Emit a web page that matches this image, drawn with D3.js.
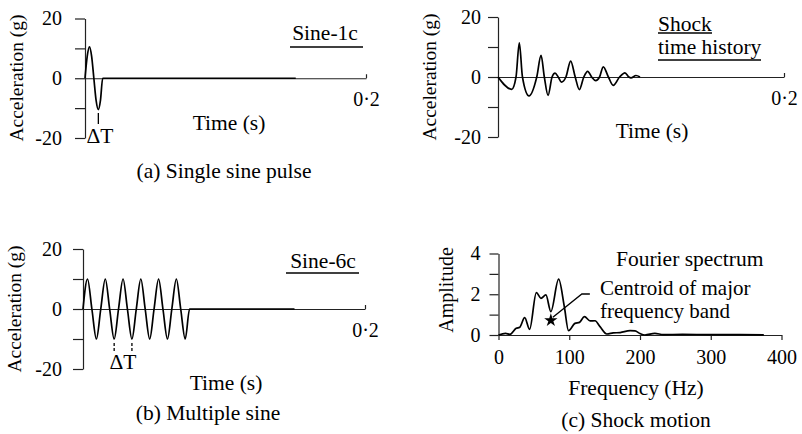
<!DOCTYPE html>
<html>
<head>
<meta charset="utf-8">
<script src="https://cdn.jsdelivr.net/npm/d3@7"></script>
<style>
  html, body { margin: 0; padding: 0; background: #fff; }
  svg { display: block; font-family: "Liberation Serif", "Times New Roman", serif; }
  .axis path, .axis line { stroke: #222; stroke-width: 1.2; }
  .axis text { font-family: "Liberation Serif", "Times New Roman", serif; font-size: 20px; fill: #000; }
  .trace { fill: none; stroke: #000; stroke-width: 1.7; stroke-linejoin: round; }
  .lbl { font-size: 21.5px; fill: #000; }
</style>
</head>
<body>
<svg id="chart" width="802" height="434"></svg>
<script>
// ---- data ----
const timeDomain = [0, 0.2];
const accelTicks = [-20, -10, 0, 10, 20];
const accelTickLabels = [-20, 0, 20];

// (a) single sine cycle, then rest
const sine1cTime = [0, 0.0016, 0.0032, 0.0047, 0.0063, 0.0079, 0.0095, 0.0110, 0.0126, 0.15];
const sine1cAccel = [0, 7.4, 10.5, 7.4, 0, -7.4, -10.5, -7.4, 0, 0];

// (b) six sine cycles, then rest
const sine6cTime = [
  0, 0.0032, 0.0063, 0.0095,
  0.0126, 0.0158, 0.0189, 0.0221,
  0.0252, 0.0284, 0.0315, 0.0347,
  0.0378, 0.0410, 0.0441, 0.0473,
  0.0504, 0.0536, 0.0567, 0.0599,
  0.0630, 0.0662, 0.0693, 0.0725,
  0.0756, 0.15
];
const sine6cAccel = [
  0, 10, 0, -10,
  0, 10, 0, -10,
  0, 10, 0, -10,
  0, 10, 0, -10,
  0, 10, 0, -10,
  0, 10, 0, -10,
  0, 0
];

// shock time history
const shockTime = [0, 0.0096, 0.0126, 0.0149, 0.0171, 0.0217, 0.0271, 0.0301, 0.0324, 0.0350,
  0.0378, 0.0399, 0.0421, 0.0443, 0.0475, 0.0508, 0.0540, 0.0569, 0.0600, 0.0627,
  0.0655, 0.0683, 0.0710, 0.0736, 0.0772, 0.0806, 0.0850, 0.0888, 0.0915, 0.0930,
  0.0965, 0.0993];
const shockAccel = [0, -4.1, 0, 11.4, 0, -6.3, 0, 7.2, 0, -6.1,
  0, 1.3, 0, -1.7, 0, 5.3, 0, -4.2, 0, 1.9,
  0, -1.2, 0, 3.4, 0, -2.8, 0, 1.4, 0, -0.3,
  0.5, 0];

// Fourier spectrum
const freqHz = [0, 10, 16, 25, 30, 37, 44, 53.5, 60, 67, 74, 85, 93, 99, 108, 114.5, 121.5,
  129.5, 136.5, 143.5, 153, 162, 172, 186, 193, 200, 207, 221, 233, 260, 300, 340, 375];
const fourierAmp = [0, 0.08, 0.03, 0.33, 0.38, 0.85, 0.28, 2.08, 1.8, 1.97, 1.15, 2.74, 1.4,
  0.21, 0.57, 0.62, 0.9, 0.69, 0.7, 0.41, 0.05, 0.1, 0.12, 0.21, 0.2, 0.07, 0.0, 0.08,
  0.02, 0.03, 0.02, 0.02, 0.01];
const freqTicks = [0, 100, 200, 300, 400];
const ampTicks = [0, 1, 2, 3, 4];
const ampTickLabels = [0, 2, 4];
const centroid = { f: 74, a: 0.72 };

// ---- drawing ----
const svg = d3.select("#chart");

function text(x, y, s, opts = {}) {
  const t = svg.append("text").attr("class", "lbl")
    .attr("x", x).attr("y", y).attr("text-anchor", opts.anchor || "middle").text(s);
  if (opts.size) t.style("font-size", opts.size + "px");
  if (opts.rotate) t.attr("transform", `rotate(-90,${x},${y})`);
  return t;
}
function rule(x1, y1, x2, y2, w = 1.5) {
  svg.append("line").attr("x1", x1).attr("y1", y1).attr("x2", x2).attr("y2", y2)
    .attr("stroke", "#000").attr("stroke-width", w);
}

function timePanel(p, times, accel) {
  const x = d3.scaleLinear().domain(timeDomain).range([p.left, p.right]);
  const y = d3.scaleLinear().domain([-20, 20]).range([p.bottom, p.top]);

  svg.append("g").attr("class", "axis")
    .attr("transform", `translate(${p.left},0)`)
    .call(d3.axisLeft(y).tickValues(accelTicks).tickSize(10).tickSizeOuter(0)
      .tickPadding(p.pad)
      .tickFormat(d => accelTickLabels.includes(d) ? String(d) : ""));

  svg.append("g").attr("class", "axis")
    .attr("transform", `translate(0,${y(0)})`)
    .call(d3.axisBottom(x).tickValues([0.2]).tickSize(-4).tickSizeOuter(0)
      .tickPadding(14).tickFormat(() => "0\u00B72"));

  const pts = times.map((t, i) => [t, accel[i]]);
  svg.append("path").attr("class", "trace")
    .attr("d", d3.line().x(d => x(d[0])).y(d => y(d[1])).curve(d3.curveMonotoneX)(pts));
  return { x, y };
}

// (a) Single sine pulse
const pa = timePanel({ left: 85, right: 366, top: 18.5, bottom: 138, pad: 13 }, sine1cTime, sine1cAccel);
text(16, 78, "Acceleration (g)", { rotate: true, size: 19.5 }).attr("dy", "0.35em");
text(229, 130, "Time (s)");
text(224, 178, "(a) Single sine pulse");
text(325, 40, "Sine-1c");
rule(290, 47, 363, 47);
{
  const tx = pa.x(sine1cTime[6]);
  rule(tx, 113, tx, 124, 1.3);
  text(100, 143, "\u0394T");
}

// (b) Multiple sine
const pb = timePanel({ left: 83, right: 365, top: 249, bottom: 369, pad: 11 }, sine6cTime, sine6cAccel);
text(14, 309, "Acceleration (g)", { rotate: true, size: 19.5 }).attr("dy", "0.35em");
text(226, 390, "Time (s)");
text(208, 420, "(b) Multiple sine");
text(323, 268, "Sine-6c");
rule(286, 273, 359, 273);
[sine6cTime[7], sine6cTime[11]].forEach(t => {
  const tx = pb.x(t);
  svg.append("line").attr("x1", tx).attr("x2", tx).attr("y1", 343).attr("y2", 351)
    .attr("stroke", "#000").attr("stroke-width", 1.3).attr("stroke-dasharray", "3,2");
});
text(123, 369, "\u0394T");

// Shock time history
timePanel({ left: 498, right: 784, top: 17, bottom: 137, pad: 7 }, shockTime, shockAccel);
text(429, 77, "Acceleration (g)", { rotate: true, size: 19.5 }).attr("dy", "0.35em");
text(652, 138, "Time (s)");
text(658, 31, "Shock", { anchor: "start" });
rule(658, 33, 712, 33);
text(658, 54, "time history", { anchor: "start" });
rule(658, 60, 761, 60);

// (c) Fourier spectrum
{
  const x = d3.scaleLinear().domain([0, 400]).range([498.5, 781.5]);
  const y = d3.scaleLinear().domain([0, 4]).range([335, 253.5]);

  svg.append("g").attr("class", "axis")
    .attr("transform", "translate(498.5,0)")
    .call(d3.axisLeft(y).tickValues(ampTicks).tickSize(9).tickSizeOuter(0).tickPadding(9)
      .tickFormat(d => ampTickLabels.includes(d) ? String(d) : ""));

  svg.append("g").attr("class", "axis")
    .attr("transform", "translate(0,335)")
    .call(d3.axisBottom(x).tickValues(freqTicks).tickSize(5).tickSizeOuter(0).tickPadding(10));

  const pts = freqHz.map((f, i) => [f, fourierAmp[i]]);
  svg.append("path").attr("class", "trace")
    .attr("d", d3.line().x(d => x(d[0])).y(d => y(d[1])).curve(d3.curveMonotoneX)(pts));

  const cx = x(centroid.f), cy = y(centroid.a);
  svg.append("path").attr("d", d3.symbol(d3.symbolStar, 55)())
    .attr("transform", `translate(${cx},${cy})`).attr("fill", "#000");
  svg.append("polyline")
    .attr("points", `${cx + 2},${cy - 3} ${cx + 31},${294} ${cx + 39},${294}`)
    .attr("fill", "none").attr("stroke", "#000").attr("stroke-width", 1.3);

  text(446, 290, "Amplitude", { rotate: true, size: 20 }).attr("dy", "0.35em");
  text(636, 395, "Frequency (Hz)");
  text(636, 427, "(c) Shock motion");
  text(616, 266, "Fourier spectrum", { anchor: "start" });
  text(600, 295, "Centroid of major", { anchor: "start", size: 21 });
  text(600, 318, "frequency band", { anchor: "start", size: 21 });
}
</script>
</body>
</html>
